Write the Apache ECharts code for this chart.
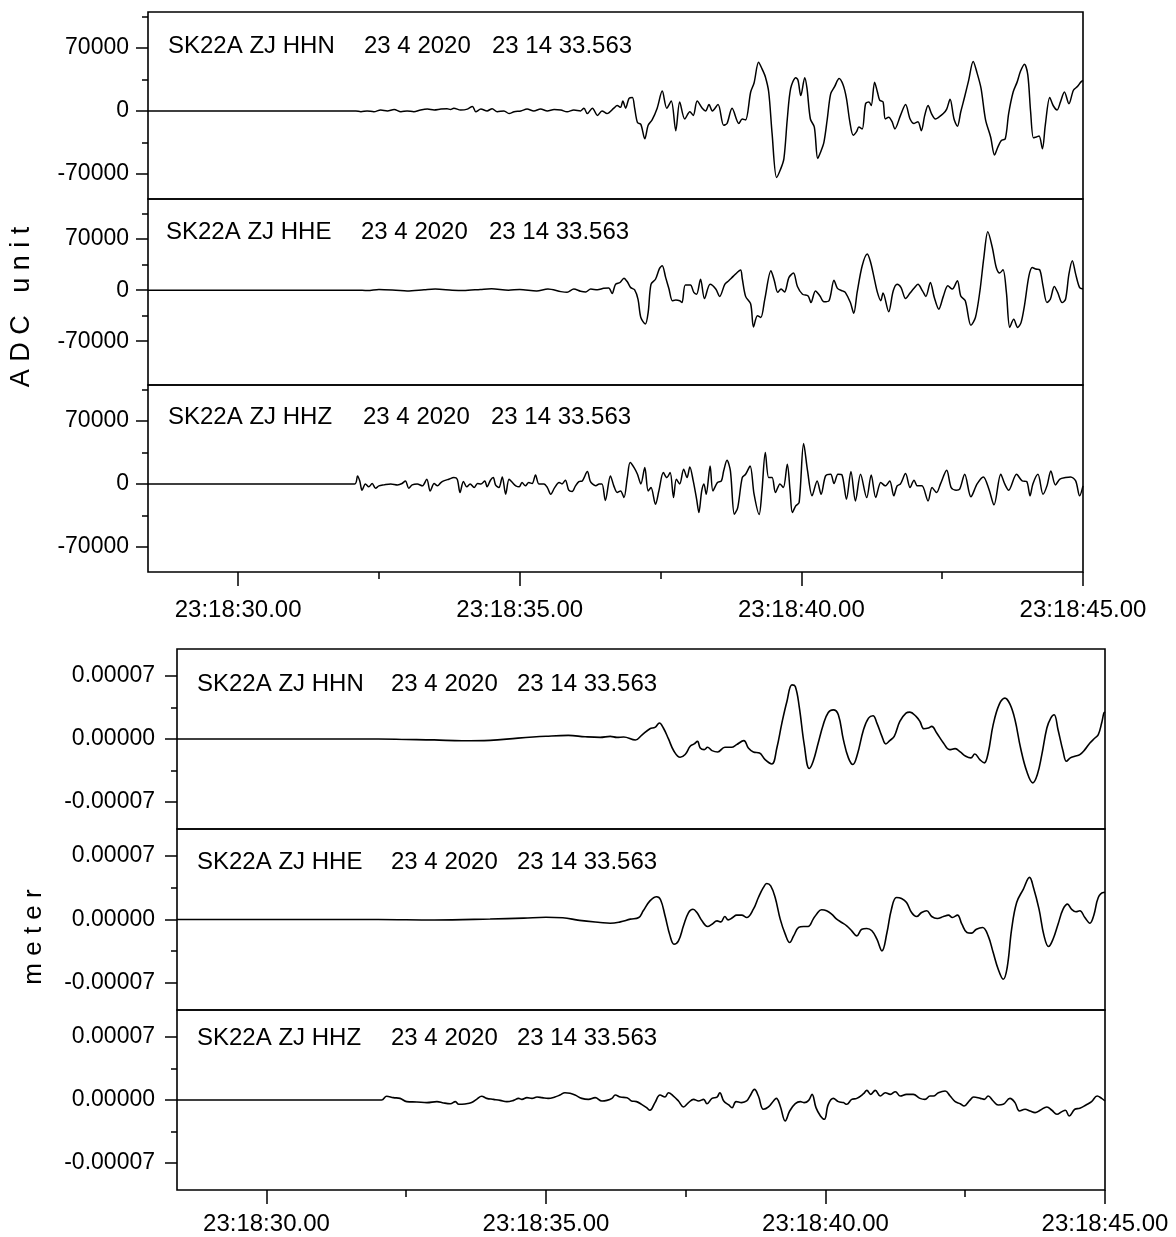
<!DOCTYPE html>
<html><head><meta charset="utf-8">
<script src="https://cdn.jsdelivr.net/npm/echarts@6/dist/echarts.min.js"></script>
<style>html,body{margin:0;padding:0;background:#fff}#c{width:1176px;height:1237px}</style>
</head><body><div id="c"></div>
<script>
// ---------------- data (time in seconds after 23:18:00, values in ADC counts / meters) ----------------
const timeMin = 28.4, timeMax = 45;
const xMajorTicks = [30, 35, 40, 45];
const xMinorTicks = [32.5, 37.5, 42.5];
const adcMajorTicks = [-70000, 0, 70000];
const adcMinorTicks = [-35000, 35000, 105000];
const meterMajorTicks = [-0.00007, 0, 0.00007];
const meterMinorTicks = [-0.000035, 0.000035];
const stations = ['SK22A ZJ HHN', 'SK22A ZJ HHE', 'SK22A ZJ HHZ'];
const dateText = '23 4 2020';
const timeText = '23 14 33.563';

const adcHHN = [[28.4,0],[32.09,0],[32.18,-1000],[32.29,0],[32.41,-1000],[32.53,1000],[32.65,0],[32.77,1500],[32.89,-1000],[33.00,0],[33.12,-1000],[33.24,1000],[33.36,2000],[33.48,1000],[33.60,2000],[33.71,2500],[33.77,1500],[33.83,3000],[33.95,1000],[34.07,2000],[34.16,5000],[34.22,-1000],[34.31,2000],[34.42,0],[34.51,2500],[34.60,-1000],[34.72,0],[34.81,-3000],[34.90,-1000],[35.02,0],[35.13,2000],[35.25,0],[35.37,2000],[35.49,0],[35.61,1500],[35.73,1000],[35.84,-1000],[35.96,1000],[36.08,0],[36.14,3000],[36.20,-3000],[36.29,3000],[36.38,-5000],[36.46,0],[36.55,-3000],[36.67,3000],[36.73,6000],[36.79,4000],[36.83,11000],[36.88,3000],[36.94,14000],[37.00,15000],[37.04,3000],[37.09,-13000],[37.15,-15000],[37.22,-31000],[37.28,-16000],[37.35,-10000],[37.44,3000],[37.53,22000],[37.61,3000],[37.69,11000],[37.77,-22000],[37.84,10000],[37.93,-9000],[38.02,-1000],[38.08,-5000],[38.15,11000],[38.24,3000],[38.30,0],[38.36,7000],[38.42,0],[38.52,7000],[38.62,-16000],[38.68,-14000],[38.77,3000],[38.89,-14000],[38.95,-9000],[39.01,-10000],[39.10,21000],[39.16,31000],[39.24,54000],[39.30,47000],[39.36,38000],[39.42,21000],[39.48,-25000],[39.56,-74000],[39.63,-65000],[39.69,-53000],[39.75,-9000],[39.81,25000],[39.90,37000],[39.94,34000],[39.99,17000],[40.06,37000],[40.10,25000],[40.16,-9000],[40.23,-18000],[40.29,-53000],[40.34,-46000],[40.40,-35000],[40.46,-9000],[40.52,19000],[40.59,27000],[40.67,36000],[40.74,29000],[40.80,14000],[40.86,-12000],[40.92,-27000],[40.98,-23000],[41.02,-18000],[41.08,-20000],[41.14,8000],[41.20,10000],[41.24,6000],[41.30,32000],[41.35,21000],[41.39,12000],[41.45,10000],[41.49,-9000],[41.55,-7000],[41.61,-12000],[41.66,-20000],[41.76,-5000],[41.85,7000],[41.93,-9000],[42.00,-14000],[42.07,-12000],[42.13,-22000],[42.19,-5000],[42.25,6000],[42.31,-3000],[42.38,-9000],[42.44,-7000],[42.52,-3000],[42.58,2000],[42.64,13000],[42.71,-9000],[42.77,-17000],[42.83,-1000],[42.90,16000],[42.97,34000],[43.05,55000],[43.12,42000],[43.19,25000],[43.27,-10000],[43.36,-29000],[43.43,-49000],[43.49,-40000],[43.55,-33000],[43.62,-31000],[43.68,-3000],[43.76,21000],[43.83,32000],[43.89,44000],[43.96,52000],[44.02,40000],[44.07,-1000],[44.12,-30000],[44.17,-29000],[44.22,-28000],[44.28,-42000],[44.33,-16000],[44.41,15000],[44.47,6000],[44.54,1000],[44.60,10000],[44.67,21000],[44.75,8000],[44.83,23000],[44.90,27000],[44.96,32000],[45.00,34000]];

const adcHHE = [[28.4,0],[32.1,0],[32.3,-500],[32.5,1000],[32.8,0],[33.0,-1000],[33.3,500],[33.5,1500],[33.8,0],[34.0,-500],[34.3,1000],[34.5,2000],[34.8,0],[35.0,1000],[35.3,-1000],[35.5,1500],[35.73,-2000],[35.84,-3000],[35.96,1500],[36.08,-1500],[36.17,-2500],[36.26,1500],[36.38,500],[36.49,2500],[36.58,3000],[36.64,-4500],[36.70,8000],[36.78,10500],[36.85,16500],[36.91,11500],[36.97,3500],[37.04,500],[37.10,-12500],[37.15,-37500],[37.23,-46500],[37.28,-30500],[37.33,8000],[37.41,15000],[37.48,29500],[37.53,33500],[37.59,17500],[37.65,1500],[37.71,-14500],[37.77,-13500],[37.84,-14500],[37.88,-17000],[37.94,7000],[38.03,7000],[38.09,-3000],[38.14,-5500],[38.21,15000],[38.28,-11500],[38.38,8000],[38.48,1500],[38.55,-8500],[38.64,8000],[38.71,13000],[38.77,17500],[38.83,22000],[38.92,27500],[38.95,16000],[39.01,-8500],[39.10,-19000],[39.15,-50500],[39.22,-35000],[39.28,-37500],[39.35,-12500],[39.46,26500],[39.52,13000],[39.58,-3000],[39.64,1500],[39.70,-2500],[39.78,17500],[39.86,23500],[39.93,5000],[40.02,-5500],[40.12,-8000],[40.17,-17000],[40.25,-1000],[40.33,-8000],[40.40,-16000],[40.49,-14500],[40.58,13500],[40.64,2500],[40.73,-1000],[40.78,-3000],[40.87,-17000],[40.93,-31500],[40.99,-3000],[41.08,33500],[41.17,49500],[41.23,38000],[41.29,17500],[41.35,-3000],[41.41,-14500],[41.45,-4000],[41.55,-29500],[41.63,-1000],[41.70,8000],[41.77,3500],[41.85,-11500],[41.93,-4000],[42.00,2500],[42.07,8000],[42.15,-1000],[42.21,-8500],[42.29,10500],[42.36,-10000],[42.44,-26000],[42.52,-8500],[42.60,6000],[42.68,1500],[42.77,13000],[42.83,-8000],[42.91,-14500],[43.01,-48000],[43.09,-37500],[43.17,-1000],[43.24,45000],[43.31,80000],[43.39,58500],[43.46,31000],[43.52,23500],[43.58,28000],[43.64,-3000],[43.70,-51000],[43.77,-40000],[43.84,-51000],[43.90,-44500],[43.96,-21500],[44.04,19500],[44.10,31000],[44.16,29000],[44.23,28000],[44.29,6000],[44.36,-17000],[44.42,-12500],[44.49,5000],[44.55,-3000],[44.63,-17000],[44.69,-12500],[44.75,22000],[44.81,40500],[44.87,22000],[44.94,3500],[45.00,1500]];

const adcHHZ = [[28.4,0],[32.07,0],[32.12,8900],[32.16,3300],[32.20,-7000],[32.26,0],[32.32,-3300],[32.38,400],[32.44,-4800],[32.50,-2200],[32.59,-1100],[32.71,0],[32.83,-1100],[32.91,400],[32.97,3300],[33.03,-4800],[33.09,-1100],[33.18,0],[33.27,-2200],[33.35,5200],[33.41,-7800],[33.48,400],[33.54,-2200],[33.60,1500],[33.65,3300],[33.74,5200],[33.83,7000],[33.89,5200],[33.94,-9600],[34.00,2600],[34.06,-3300],[34.12,0],[34.19,-4100],[34.25,400],[34.31,0],[34.38,3300],[34.42,-3300],[34.48,4100],[34.53,7000],[34.57,-1100],[34.63,-4100],[34.69,7800],[34.75,-11500],[34.81,5200],[34.87,1500],[34.93,-2200],[34.99,-3300],[35.04,1500],[35.10,-2200],[35.16,1500],[35.22,400],[35.28,10000],[35.34,0],[35.43,0],[35.49,-4100],[35.55,-11500],[35.62,-4100],[35.70,1500],[35.75,0],[35.81,4100],[35.87,-7000],[35.93,-8500],[35.99,-2200],[36.05,2600],[36.11,3300],[36.20,13700],[36.25,3300],[36.29,0],[36.35,-2200],[36.41,0],[36.46,0],[36.52,-18500],[36.61,8900],[36.67,-2200],[36.73,-9600],[36.79,-7800],[36.85,-15200],[36.91,7000],[36.96,23700],[37.03,18100],[37.09,10700],[37.15,0],[37.22,18100],[37.28,-7800],[37.33,-4100],[37.41,-22600],[37.47,-7800],[37.55,12600],[37.61,7000],[37.67,12600],[37.73,-15200],[37.78,5200],[37.84,0],[37.91,16300],[37.97,7000],[38.02,18900],[38.08,3300],[38.14,-17000],[38.18,-31800],[38.23,-8000],[38.27,0],[38.31,-11500],[38.38,20000],[38.43,-7800],[38.51,1500],[38.58,3300],[38.62,14400],[38.68,26300],[38.74,14400],[38.81,-33700],[38.87,-26300],[38.95,7000],[39.01,10700],[39.09,20000],[39.16,-11500],[39.25,-34000],[39.30,-7800],[39.36,34800],[39.42,7000],[39.48,7000],[39.54,-9600],[39.62,0],[39.68,-4100],[39.75,21800],[39.80,-7800],[39.84,-31800],[39.90,-24400],[39.96,-20700],[40.04,44800],[40.11,14400],[40.19,-13300],[40.28,3300],[40.35,-11500],[40.43,8900],[40.52,10700],[40.58,400],[40.65,10700],[40.72,10000],[40.80,-17000],[40.88,13700],[40.96,-18900],[41.05,10700],[41.16,-15200],[41.24,10000],[41.32,-15200],[41.41,1500],[41.49,-2200],[41.57,3300],[41.64,-13300],[41.70,-2200],[41.76,0],[41.85,11500],[41.93,-4100],[42.00,4100],[42.06,-2200],[42.14,-2200],[42.25,-18900],[42.32,-4100],[42.40,-9600],[42.47,0],[42.58,15200],[42.66,-4100],[42.75,-7000],[42.81,-5900],[42.90,10700],[43.01,-14400],[43.12,0],[43.23,7800],[43.33,-5900],[43.42,-23300],[43.54,10700],[43.61,0],[43.68,-7000],[43.82,10700],[43.92,3300],[44.00,2600],[44.06,-13300],[44.11,0],[44.20,10700],[44.29,-11500],[44.36,-2200],[44.43,14400],[44.51,-1100],[44.59,5200],[44.69,7000],[44.78,7800],[44.87,3300],[44.94,-13300],[45.00,-2200]];

const meterHHN = [[28.4,0],[32.0,0],[32.5,-0.5e-6],[33.0,-1e-6],[33.5,-2e-6],[34.0,-1.5e-6],[34.5,1e-6],[35.0,3e-6],[35.4,4e-6],[35.7,2.5e-6],[35.97,1.8e-6],[36.15,2.9e-6],[36.27,1.8e-6],[36.39,2.2e-6],[36.60,-1.1e-6],[36.71,4.1e-6],[36.86,11.4e-6],[36.95,12.9e-6],[37.03,17.7e-6],[37.10,12.2e-6],[37.19,0.4e-6],[37.29,-13.6e-6],[37.40,-20.3e-6],[37.49,-17.3e-6],[37.58,-8.1e-6],[37.65,-5.5e-6],[37.71,-2.6e-6],[37.76,-10e-6],[37.83,-11.8e-6],[37.89,-9.2e-6],[37.97,-12.9e-6],[38.07,-14.4e-6],[38.20,-9.2e-6],[38.32,-9.2e-6],[38.41,-6.3e-6],[38.54,-1.8e-6],[38.62,-10e-6],[38.71,-14.4e-6],[38.82,-15.5e-6],[38.92,-22.9e-6],[39.04,-27.7e-6],[39.13,-10e-6],[39.22,17.7e-6],[39.31,41.7e-6],[39.40,60.1e-6],[39.46,58.3e-6],[39.53,36.1e-6],[39.62,-6.3e-6],[39.71,-32.8e-6],[39.78,-24.7e-6],[39.87,-4.4e-6],[39.96,15.9e-6],[40.05,29.5e-6],[40.14,32.4e-6],[40.23,26.9e-6],[40.32,-0.7e-6],[40.41,-21e-6],[40.49,-28.4e-6],[40.57,-17.3e-6],[40.68,10.3e-6],[40.77,23.2e-6],[40.85,25.8e-6],[40.92,17.7e-6],[41.01,2.9e-6],[41.08,-5.5e-6],[41.15,-1.8e-6],[41.23,2.9e-6],[41.33,19.5e-6],[41.44,28.8e-6],[41.51,29.9e-6],[41.62,25.1e-6],[41.69,19.5e-6],[41.76,11.4e-6],[41.84,12.2e-6],[41.90,14e-6],[41.99,6.6e-6],[42.11,-4.4e-6],[42.22,-11.8e-6],[42.32,-10.7e-6],[42.41,-14.4e-6],[42.51,-19.2e-6],[42.60,-21e-6],[42.67,-16.6e-6],[42.76,-22.9e-6],[42.84,-26.5e-6],[42.91,-15.5e-6],[43.00,15.9e-6],[43.11,38.7e-6],[43.21,45.4e-6],[43.30,38.7e-6],[43.39,21.4e-6],[43.49,-10e-6],[43.60,-35.8e-6],[43.71,-48.7e-6],[43.79,-39.5e-6],[43.87,-17.3e-6],[43.96,12.2e-6],[44.03,23.2e-6],[44.09,26.9e-6],[44.16,10.3e-6],[44.25,-13.6e-6],[44.31,-24.7e-6],[44.38,-21e-6],[44.46,-19.2e-6],[44.55,-17.3e-6],[44.64,-11.8e-6],[44.73,-4.4e-6],[44.82,1.1e-6],[44.88,4.8e-6],[44.94,17.7e-6],[44.98,28.8e-6],[45.00,30e-6]];

const meterHHE = [[28.4,0],[32.0,0],[33.0,-0.5e-6],[34.0,0.5e-6],[34.6,1.5e-6],[35.0,2.5e-6],[35.3,2e-6],[35.6,-1e-6],[35.97,-3.3e-6],[36.15,-4.1e-6],[36.33,-2.6e-6],[36.51,0.4e-6],[36.66,2.2e-6],[36.74,9.6e-6],[36.86,20.6e-6],[36.98,25.1e-6],[37.05,21.8e-6],[37.13,4.1e-6],[37.22,-18.1e-6],[37.29,-27.3e-6],[37.37,-23.6e-6],[37.46,-7e-6],[37.55,7.7e-6],[37.63,11.4e-6],[37.70,7.7e-6],[37.79,-1.5e-6],[37.89,-7.7e-6],[37.97,-5.2e-6],[38.06,-1.5e-6],[38.13,-2.6e-6],[38.20,3.3e-6],[38.26,-0.4e-6],[38.34,2.2e-6],[38.41,4.8e-6],[38.50,4.8e-6],[38.59,2.2e-6],[38.71,11.4e-6],[38.80,24.3e-6],[38.89,35.4e-6],[38.95,39.8e-6],[39.02,37.2e-6],[39.10,24.3e-6],[39.19,0.4e-6],[39.28,-16.2e-6],[39.36,-25.4e-6],[39.43,-18.1e-6],[39.52,-8.8e-6],[39.61,-7.7e-6],[39.69,-7.7e-6],[39.78,0.4e-6],[39.84,5.9e-6],[39.93,10.7e-6],[40.02,9.6e-6],[40.11,5.9e-6],[40.20,0.4e-6],[40.29,-3.3e-6],[40.38,-7e-6],[40.47,-12.5e-6],[40.56,-18.1e-6],[40.65,-10.7e-6],[40.74,-10e-6],[40.83,-12.5e-6],[40.92,-21.8e-6],[41.01,-34.7e-6],[41.10,-14.4e-6],[41.18,11.4e-6],[41.27,24.3e-6],[41.36,23.2e-6],[41.45,18.8e-6],[41.54,7.7e-6],[41.63,3.3e-6],[41.72,7.7e-6],[41.81,9.6e-6],[41.90,3.3e-6],[42.00,1.1e-6],[42.11,3.3e-6],[42.20,4.8e-6],[42.27,2.2e-6],[42.36,4.8e-6],[42.44,-5.2e-6],[42.53,-14.4e-6],[42.61,-15.1e-6],[42.70,-10.7e-6],[42.81,-8.8e-6],[42.91,-18.1e-6],[43.00,-36.5e-6],[43.09,-54.9e-6],[43.18,-66e-6],[43.25,-53.1e-6],[43.33,-10.7e-6],[43.42,18.8e-6],[43.54,33.6e-6],[43.65,46.5e-6],[43.72,35.4e-6],[43.82,11.4e-6],[43.91,-18.1e-6],[43.99,-29.9e-6],[44.07,-21.8e-6],[44.16,-5.2e-6],[44.25,11.4e-6],[44.33,17e-6],[44.40,11.4e-6],[44.48,8.5e-6],[44.55,9.6e-6],[44.64,2.2e-6],[44.73,-4.1e-6],[44.80,4.8e-6],[44.88,24.3e-6],[44.97,29.9e-6],[45.00,30e-6]];

const meterHHZ = [[28.4,0],[32.06,0],[32.15,4.1e-6],[32.27,2.6e-6],[32.39,1.8e-6],[32.51,-1.8e-6],[32.69,-2.2e-6],[32.87,-2.9e-6],[33.05,-1.8e-6],[33.17,-3.3e-6],[33.29,-4.1e-6],[33.38,-1.8e-6],[33.44,-4.8e-6],[33.55,-4.4e-6],[33.67,-2.9e-6],[33.76,0.7e-6],[33.85,4.1e-6],[33.94,1.8e-6],[34.06,0.7e-6],[34.18,-0.4e-6],[34.30,-1.8e-6],[34.42,-0.4e-6],[34.51,1.8e-6],[34.57,0.7e-6],[34.66,2.6e-6],[34.75,1.8e-6],[34.84,3.3e-6],[34.93,2.6e-6],[35.04,1.8e-6],[35.16,3.3e-6],[35.25,5.5e-6],[35.34,8.1e-6],[35.43,7.4e-6],[35.52,5.5e-6],[35.64,1.8e-6],[35.76,0.7e-6],[35.88,2.6e-6],[36.00,-1.1e-6],[36.09,-0.4e-6],[36.18,1.8e-6],[36.24,5.5e-6],[36.33,3.3e-6],[36.45,2.6e-6],[36.53,-1.1e-6],[36.62,-1.8e-6],[36.71,-4.8e-6],[36.80,-8.5e-6],[36.86,-11.4e-6],[36.95,-2.9e-6],[37.04,5.5e-6],[37.13,3.3e-6],[37.19,8.1e-6],[37.28,4.4e-6],[37.37,-1.1e-6],[37.46,-7.7e-6],[37.55,-2.9e-6],[37.64,0.7e-6],[37.73,-1.1e-6],[37.82,0.7e-6],[37.88,-4.1e-6],[37.97,1.8e-6],[38.06,3.3e-6],[38.11,8.1e-6],[38.18,-1.1e-6],[38.27,-5.5e-6],[38.33,-8.5e-6],[38.40,-1.8e-6],[38.50,-2.9e-6],[38.59,-1.1e-6],[38.65,4.4e-6],[38.73,11.8e-6],[38.80,4.4e-6],[38.89,-10.3e-6],[38.98,-7.7e-6],[39.07,-1.1e-6],[39.12,1.8e-6],[39.19,-6.6e-6],[39.28,-23.2e-6],[39.36,-12.2e-6],[39.46,-4.1e-6],[39.55,-1.8e-6],[39.62,-2.9e-6],[39.70,-0.4e-6],[39.76,6.3e-6],[39.83,-8.5e-6],[39.91,-17.7e-6],[39.98,-21.4e-6],[40.05,-4.8e-6],[40.14,1.8e-6],[40.23,-1.8e-6],[40.32,-2.9e-6],[40.38,-4.8e-6],[40.47,0.7e-6],[40.56,1.8e-6],[40.68,7e-6],[40.74,10.7e-6],[40.81,6.3e-6],[40.89,10.7e-6],[40.98,4.4e-6],[41.07,8.1e-6],[41.16,6.3e-6],[41.25,9.2e-6],[41.34,4.4e-6],[41.45,6.3e-6],[41.57,6.3e-6],[41.69,1.8e-6],[41.78,0.7e-6],[41.87,4.4e-6],[41.93,4.4e-6],[42.02,8.1e-6],[42.14,10e-6],[42.23,4.4e-6],[42.32,-1.8e-6],[42.41,-4.1e-6],[42.48,-6.6e-6],[42.58,-0.4e-6],[42.65,3.3e-6],[42.77,1.8e-6],[42.84,0.7e-6],[42.91,4.4e-6],[43.00,-1.1e-6],[43.09,-5.5e-6],[43.18,-4.8e-6],[43.30,1.8e-6],[43.39,-2.9e-6],[43.47,-12.2e-6],[43.57,-10.3e-6],[43.66,-12.2e-6],[43.75,-14e-6],[43.84,-11.4e-6],[43.96,-7.7e-6],[44.05,-11.4e-6],[44.14,-15.9e-6],[44.23,-12.9e-6],[44.29,-11.4e-6],[44.36,-17.7e-6],[44.46,-10.3e-6],[44.55,-9.2e-6],[44.66,-5.5e-6],[44.76,-1.8e-6],[44.86,4.4e-6],[44.94,1.8e-6],[45.00,-1.1e-6]];

// ---------------- layout / options ----------------
const FONT = '"Liberation Sans", Arial, sans-serif';
const timeFmt = v => '23:18:' + v.toFixed(2);
const adcFmt = v => String(Math.round(v));
const meterFmt = v => v.toFixed(5);

const panels = [
  {grid:{left:148,top:12,width:935,height:187}, data:adcHHN, yMin:-98000, yMax:110000, major:adcMajorTicks, minor:adcMinorTicks, fmt:adcFmt, showX:false, yMargin:19, lw:1.5, smooth:0.3, st:0, ty:46, tx:[168,364,492]},
  {grid:{left:148,top:199,width:935,height:186}, data:adcHHE, yMin:-130000, yMax:125000, major:adcMajorTicks, minor:adcMinorTicks, fmt:adcFmt, showX:false, yMargin:19, lw:1.5, smooth:0.3, st:1, ty:232, tx:[166,361,489]},
  {grid:{left:148,top:385,width:935,height:187}, data:adcHHZ, yMin:-98000, yMax:110000, major:adcMajorTicks, minor:adcMinorTicks, fmt:adcFmt, showX:true, xMargin:26, yMargin:19, lw:1.5, smooth:0.3, st:2, ty:417, tx:[168,363,491]},
  {grid:{left:177,top:649,width:928,height:180}, data:meterHHN, yMin:-0.0001, yMax:0.0001, major:meterMajorTicks, minor:meterMinorTicks, fmt:meterFmt, showX:false, yMargin:22, lw:1.6, smooth:0.4, st:0, ty:684, tx:[197,391,517]},
  {grid:{left:177,top:829,width:928,height:181}, data:meterHHE, yMin:-0.0001, yMax:0.0001, major:meterMajorTicks, minor:meterMinorTicks, fmt:meterFmt, showX:false, yMargin:22, lw:1.6, smooth:0.4, st:1, ty:862, tx:[197,391,517]},
  {grid:{left:177,top:1010,width:928,height:180}, data:meterHHZ, yMin:-0.0001, yMax:0.0001, major:meterMajorTicks, minor:meterMinorTicks, fmt:meterFmt, showX:true, xMargin:22, yMargin:22, lw:1.6, smooth:0.4, st:2, ty:1038, tx:[197,391,517]}
];

const option = {
  animation:false,
  backgroundColor:'#fff',
  grid:[], xAxis:[], yAxis:[], series:[], graphic:[]
};
const tickStyle = {color:'#000', width:1.5};
panels.forEach((p,i) => {
  option.grid.push(Object.assign({show:true, borderColor:'#000', borderWidth:1.6, backgroundColor:'transparent', containLabel:false}, p.grid));
  option.xAxis.push({
    type:'value', gridIndex:i, min:timeMin, max:timeMax, position:'bottom', show:p.showX,
    axisLine:{show:false, onZero:false},
    axisTick:{show:true, customValues:xMajorTicks, length:14, lineStyle:tickStyle},
    axisLabel:{show:true, customValues:xMajorTicks, formatter:timeFmt, margin:p.xMargin||20, fontSize:24, color:'#000', fontFamily:FONT},
    splitLine:{show:false}
  });
  option.xAxis.push({
    type:'value', gridIndex:i, min:timeMin, max:timeMax, position:'bottom', show:p.showX,
    axisLine:{show:false, onZero:false},
    axisTick:{show:true, customValues:xMinorTicks, length:7, lineStyle:tickStyle},
    axisLabel:{show:false}, splitLine:{show:false}
  });
  option.yAxis.push({
    type:'value', gridIndex:i, min:p.yMin, max:p.yMax, position:'left',
    axisLine:{show:false, onZero:false},
    axisTick:{show:true, customValues:p.major, length:12, lineStyle:tickStyle},
    axisLabel:{show:true, customValues:p.major, formatter:p.fmt, margin:p.yMargin, fontSize:23, color:'#000', fontFamily:FONT},
    splitLine:{show:false}
  });
  option.yAxis.push({
    type:'value', gridIndex:i, min:p.yMin, max:p.yMax, position:'left',
    axisLine:{show:false, onZero:false},
    axisTick:{show:true, customValues:p.minor.filter(v => v > p.yMin && v < p.yMax), length:6, lineStyle:tickStyle},
    axisLabel:{show:false}, splitLine:{show:false}
  });
  option.series.push({
    type:'line', xAxisIndex:2*i, yAxisIndex:2*i, data:p.data, showSymbol:false, symbol:'none',
    smooth:p.smooth, lineStyle:{color:'#000', width:p.lw}, clip:true, silent:true
  });
  [stations[p.st], dateText, timeText].forEach((txt,k) => {
    option.graphic.push({type:'text', x:p.tx[k], y:p.ty, z:10,
      style:{text:txt, font:'24px ' + FONT, fill:'#000', textAlign:'left', textVerticalAlign:'middle'}});
  });
});
option.graphic.push({type:'text', x:22, y:307, rotation:Math.PI/2,
  style:{text:'A D C   u n i t', font:'27px ' + FONT, fill:'#000', textAlign:'center', textVerticalAlign:'middle'}});
option.graphic.push({type:'text', x:34, y:937, rotation:Math.PI/2,
  style:{text:'m e t e r', font:'26px ' + FONT, fill:'#000', textAlign:'center', textVerticalAlign:'middle'}});

const chart = echarts.init(document.getElementById('c'), null, {renderer:'canvas'});
chart.setOption(option);
</script>
</body></html>
